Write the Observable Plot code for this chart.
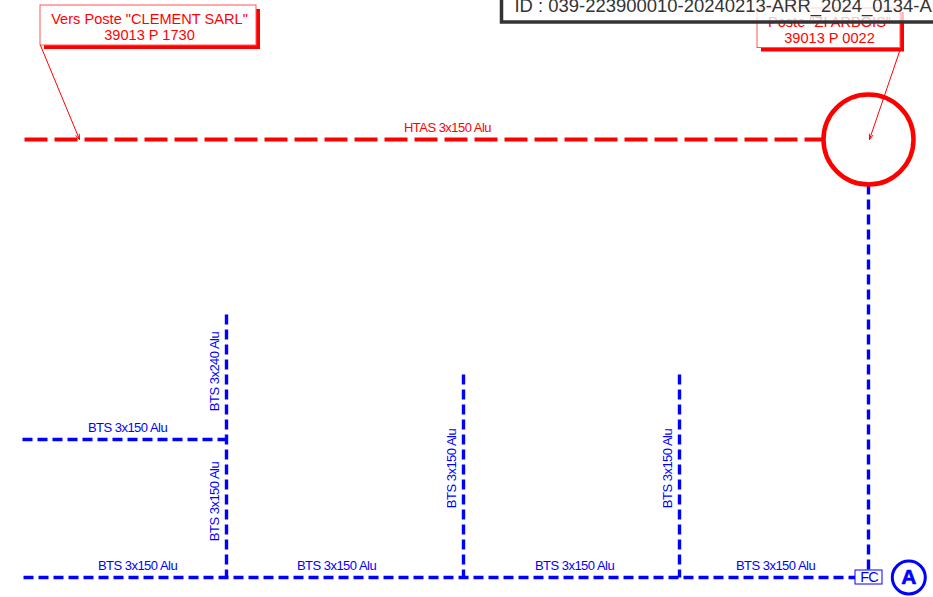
<!DOCTYPE html>
<html>
<head>
<meta charset="utf-8">
<script src="https://cdn.jsdelivr.net/npm/d3@7"></script>
<script src="https://cdn.jsdelivr.net/npm/@observablehq/plot@0.6"></script>
<style>html,body{margin:0;padding:0;background:#fff}svg{display:block}
.narrow text{letter-spacing:-0.52px}
.narrowfc text{letter-spacing:-1px}
</style>
</head>
<body>
<div id="chart"></div>
<script>
const FONT = "Liberation Sans";
const redDashed = [{x1:24,y1:139,x2:824,y2:139}];
const blueDashed = [
  {x1:868,y1:184,x2:868,y2:570},
  {x1:226,y1:314,x2:226,y2:577},
  {x1:22,y1:439,x2:226,y2:439},
  {x1:23,y1:577,x2:855,y2:577},
  {x1:463,y1:374,x2:463,y2:577},
  {x1:679,y1:374,x2:679,y2:577}
];
const redLabels = [{x:447,y:127.5,t:"HTAS 3x150 Alu"}];
const blueH = [
  {x:127,y:427.5,t:"BTS 3x150 Alu"},
  {x:137,y:565.5,t:"BTS 3x150 Alu"},
  {x:336,y:565.5,t:"BTS 3x150 Alu"},
  {x:574,y:565.5,t:"BTS 3x150 Alu"},
  {x:775,y:565.5,t:"BTS 3x150 Alu"}
];
const blueV = [
  {x:214.5,y:371,t:"BTS 3x240 Alu"},
  {x:214.5,y:501,t:"BTS 3x150 Alu"},
  {x:451.5,y:468,t:"BTS 3x150 Alu"},
  {x:667.5,y:468,t:"BTS 3x150 Alu"}
];
const shadows = [
  {x1:44,y1:9,x2:260,y2:49},
  {x1:761,y1:12,x2:904,y2:51.5}
];
const boxes = [
  {x1:40,y1:5,x2:256,y2:45},
  {x1:757,y1:8,x2:900,y2:47.5}
];
const boxText = [
  {x:149,y:19,t:"Vers Poste \"CLEMENT SARL\""},
  {x:149,y:35,t:"39013 P 1730"},
  {x:829,y:22,t:"Poste \"ZI ARBOIS\""},
  {x:829,y:38,t:"39013 P 0022"}
];
const leaders = [
  {x1:40,y1:45,x2:79,y2:139},
  {x1:899,y1:51,x2:869,y2:139}
];
const station = [{x:868,y:139}];
const fc = [{x1:855,y1:570,x2:882,y2:584}];
const fcText = [{x:868.5,y:577,t:"FC"}];
const badge = [{x:908.3,y:577,t:"A"}];
const idBox = [{x1:501.5,y1:-10,x2:960,y2:22}];
const idText = [{x:514,y:6,t:"ID : 039-223900010-20240213-ARR_2024_0134-AR"}];

const chart = Plot.plot({
  width:933, height:597,
  margin:0,
  x:{domain:[0,933],range:[0,933],axis:null},
  y:{domain:[0,597],range:[0,597],axis:null},
  style:{background:"#fff"},
  marks:[
    Plot.link(redDashed,{x1:"x1",y1:"y1",x2:"x2",y2:"y2",stroke:"#f00",strokeWidth:4,strokeDasharray:"23,7"}),
    Plot.link(blueDashed,{x1:"x1",y1:"y1",x2:"x2",y2:"y2",stroke:"#00f",strokeWidth:3.4,strokeDasharray:"10,5"}),
    Plot.text(redLabels,{x:"x",y:"y",text:"t",fill:"#f00",fontSize:13,fontFamily:FONT,className:"narrow"}),
    Plot.text(blueH,{x:"x",y:"y",text:"t",fill:"#00f",fontSize:13,fontFamily:FONT,className:"narrow"}),
    Plot.text(blueV,{x:"x",y:"y",text:"t",fill:"#00f",fontSize:13,fontFamily:FONT,rotate:-90,className:"narrow"}),
    Plot.rect(shadows,{x1:"x1",y1:"y1",x2:"x2",y2:"y2",fill:"#f00"}),
    Plot.rect(boxes,{x1:"x1",y1:"y1",x2:"x2",y2:"y2",fill:"#fff",stroke:"#f55",strokeWidth:1}),
    Plot.text(boxText,{x:"x",y:"y",text:"t",fill:"#f00",fontSize:14.6,fontFamily:FONT}),
    Plot.arrow(leaders,{x1:"x1",y1:"y1",x2:"x2",y2:"y2",stroke:"#f00",strokeWidth:1,headLength:8,headAngle:40,bend:false}),
    Plot.dot(station,{x:"x",y:"y",r:45,stroke:"#f00",strokeWidth:4.5,fill:"none"}),
    Plot.rect(fc,{x1:"x1",y1:"y1",x2:"x2",y2:"y2",fill:"#fff",stroke:"#00f",strokeWidth:1}),
    Plot.text(fcText,{x:"x",y:"y",text:"t",fill:"#00f",fontSize:14.5,fontFamily:FONT,className:"narrowfc"}),
    Plot.dot(badge,{x:"x",y:"y",r:16.5,stroke:"#00f",strokeWidth:3,fill:"#fff"}),
    Plot.text(badge,{x:"x",y:"y",text:"t",fill:"#00f",stroke:"#00f",strokeWidth:0.7,fontSize:21,fontWeight:"bold",fontFamily:FONT}),
    Plot.rect(idBox,{x1:"x1",y1:"y1",x2:"x2",y2:"y2",fill:"#fff",fillOpacity:0.75,stroke:"#333",strokeWidth:3.5}),
    Plot.text(idText,{x:"x",y:"y",text:"t",fill:"#333",fontSize:18.45,textAnchor:"start",fontFamily:FONT})
  ]
});
document.getElementById("chart").append(chart);
</script>
</body>
</html>
